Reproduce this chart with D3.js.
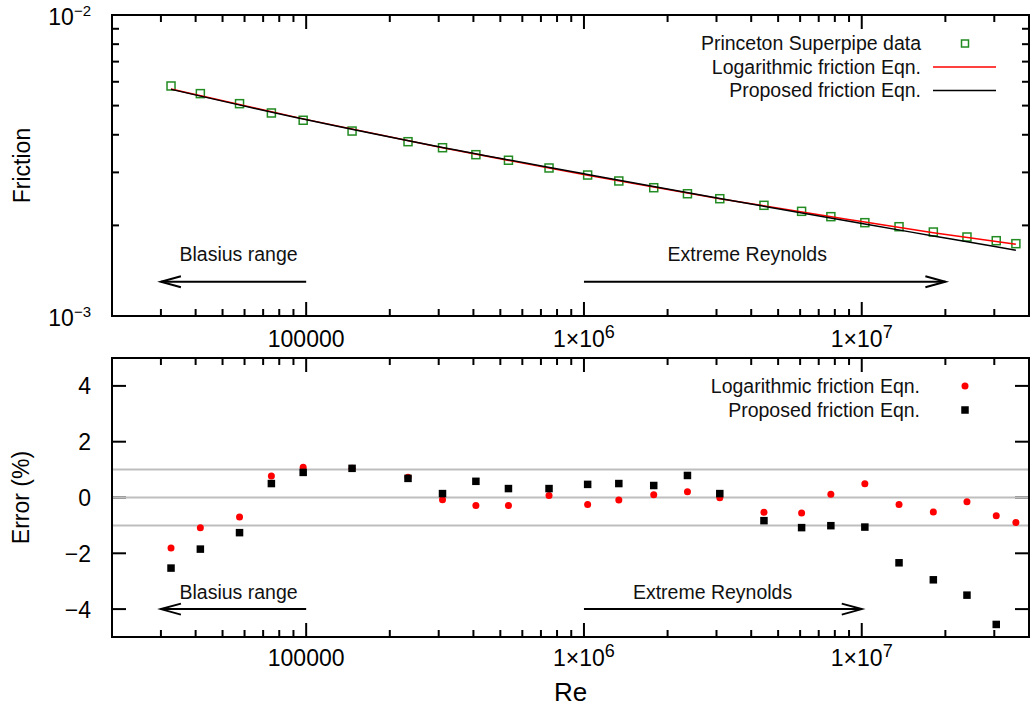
<!DOCTYPE html>
<html>
<head>
<meta charset="utf-8">
<script src="https://cdn.jsdelivr.net/npm/d3@7"></script>
<style>
  html, body { margin: 0; padding: 0; background: #fff; }
  svg { display: block; font-family: "Liberation Sans", Arial, Helvetica, sans-serif; }
</style>
</head>
<body>
<svg id="chart" width="1034" height="709"></svg>
<script>
// Reynolds numbers of the Superpipe measurements
const reynolds = [32620, 41600, 57560, 74950, 97550, 146300, 232600, 309600, 408300, 534800,
  748600, 1031000, 1335000, 1783000, 2358000, 3083000, 4446000, 6074000, 7741000, 10260000,
  13620000, 18100000, 23920000, 30490000, 35880000];

// Measured friction factor
const frictionData = [0.00581, 0.00548, 0.005075, 0.004726, 0.00447, 0.004116, 0.003794, 0.003623,
  0.003435, 0.003292, 0.003103, 0.00294, 0.002809, 0.002668, 0.002548, 0.002453, 0.002332, 0.002227,
  0.002138, 0.002042, 0.00198, 0.001901, 0.00183, 0.001779, 0.001739];

// Friction curves sampled along Re
const curveRe = [32620, 97550, 309600, 1031000, 3083000, 10260000, 18100000, 30490000, 35880000];
const logFriction = [0.00568, 0.004518, 0.00362, 0.002933, 0.002453, 0.002052, 0.001891, 0.001767, 0.00173];
const proposedFriction = [0.005663, 0.00451, 0.003628, 0.002954, 0.002456, 0.00202, 0.001845, 0.001698, 0.001655];

// Relative error (%) of each equation against the data
const errorLog = [-1.81, -1.08, -0.70, 0.77, 1.08, 1.05, 0.73, -0.08, -0.29, -0.29, 0.07, -0.25,
  -0.09, 0.10, 0.21, -0.01, -0.53, -0.56, 0.12, 0.49, -0.25, -0.52, -0.15, -0.65, -0.90];
const errorProposed = [-2.53, -1.85, -1.26, 0.50, 0.90, 1.045, 0.685, 0.14, 0.58, 0.32, 0.32, 0.47,
  0.50, 0.43, 0.79, 0.14, -0.83, -1.08, -1.01, -1.06, -2.34, -2.95, -3.50, -4.55, null];

// Axis ticks
const xMajorTicks = [1e5, 1e6, 1e7];
const xTickLabels = [["100000", ""], ["1×10", "6"], ["1×10", "7"]];
const fMajorTicks = [1e-3, 1e-2];
const fTickLabels = [["10", "−3"], ["10", "−2"]];
const errTicks = [-4, -2, 0, 2, 4];
const errGuides = [-1, 0, 1];

// Range annotations
const blasiusRange = { from: 1e5, to: 3e4, text: "Blasius range", textAt: 3.5e4 };
const extremeTop = { from: 1e6, to: 2e7, text: "Extreme Reynolds", textAt: 2e6 };
const extremeBottom = { from: 1e6, to: 1e7, text: "Extreme Reynolds", textAt: 1.5e6 };

const svg = d3.select("#chart");
const L = 112, R = 1029;
const top1 = 15, bot1 = 316, top2 = 358, bot2 = 637;
const tickFont = 23, keyFont = 19.5;

const x = d3.scaleLog().domain([2e4, 4e7]).range([L, R]);
const yF = d3.scaleLog().domain([1e-3, 1e-2]).range([bot1, top1]);
const yE = d3.scaleLinear().domain([-5, 5]).range([bot2, top2]);

const xMinor = [];
for (let d = 1e4; d < 1e8; d *= 10) for (let k = 2; k <= 9; k++) {
  const v = d * k; if (v > 2e4 && v < 4e7) xMinor.push(v);
}
const fMinor = d3.range(2, 10).map(k => k * 1e-3);

function frameTicks(g, yTop, yBot) {
  const maj = 14, min = 7;
  xMajorTicks.forEach(v => {
    g.append("line").attr("x1", x(v)).attr("x2", x(v)).attr("y1", yBot).attr("y2", yBot - maj);
    g.append("line").attr("x1", x(v)).attr("x2", x(v)).attr("y1", yTop).attr("y2", yTop + maj);
  });
  xMinor.forEach(v => {
    g.append("line").attr("x1", x(v)).attr("x2", x(v)).attr("y1", yBot).attr("y2", yBot - min);
    g.append("line").attr("x1", x(v)).attr("x2", x(v)).attr("y1", yTop).attr("y2", yTop + min);
  });
  g.selectAll("line").attr("stroke", "#000").attr("stroke-width", 2);
}

function xLabels(g, yBase) {
  xMajorTicks.forEach((v, i) => {
    const t = g.append("text").attr("x", x(v)).attr("y", yBase).attr("text-anchor", "middle")
      .attr("font-size", tickFont);
    t.append("tspan").text(xTickLabels[i][0]);
    if (xTickLabels[i][1]) t.append("tspan").attr("dy", -9).attr("font-size", 18).text(xTickLabels[i][1]);
  });
}

function arrow(g, yS, y, a, yText) {
  const x1 = x(a.from), x2 = x(a.to), dir = x2 > x1 ? -1 : 1;
  g.append("line").attr("x1", x1).attr("x2", x2).attr("y1", yS(y)).attr("y2", yS(y));
  g.append("path").attr("d", `M${x2 + dir * 20},${yS(y) - 5.5}L${x2},${yS(y)}L${x2 + dir * 20},${yS(y) + 5.5}`)
    .attr("fill", "none");
  g.selectAll("line,path").attr("stroke", "#000").attr("stroke-width", 2);
  g.append("text").attr("x", x(a.textAt)).attr("y", yS(yText)).attr("dy", "0.35em")
    .attr("font-size", keyFont).attr("fill", "#111").text(a.text);
}

// ---------- upper panel: friction ----------
const p1 = svg.append("g");
frameTicks(p1.append("g"), top1, bot1);
const yt1 = p1.append("g");
fMinor.forEach(v => {
  yt1.append("line").attr("x1", L).attr("x2", L + 7).attr("y1", yF(v)).attr("y2", yF(v));
  yt1.append("line").attr("x1", R).attr("x2", R - 7).attr("y1", yF(v)).attr("y2", yF(v));
});
yt1.selectAll("line").attr("stroke", "#000").attr("stroke-width", 2);
fMajorTicks.forEach((v, i) => {
  const t = p1.append("text").attr("x", 91).attr("y", yF(v) + 10).attr("text-anchor", "end")
    .attr("font-size", tickFont);
  t.append("tspan").text(fTickLabels[i][0]);
  t.append("tspan").attr("dy", -9).attr("font-size", 15).text(fTickLabels[i][1]);
});
xLabels(p1, 347);

arrow(p1.append("g"), yF, 1.3e-3, blasiusRange, 1.6e-3);
arrow(p1.append("g"), yF, 1.3e-3, extremeTop, 1.6e-3);

p1.append("g").selectAll("rect").data(reynolds.map((r, i) => [r, frictionData[i]])).join("rect")
  .attr("x", d => x(d[0]) - 4).attr("y", d => yF(d[1]) - 4).attr("width", 8).attr("height", 8)
  .attr("fill", "none").attr("stroke", "#228b22").attr("stroke-width", 1.5);

const lineF = d3.line().x(d => x(d[0])).y(d => yF(d[1])).curve(d3.curveMonotoneX);
p1.append("path").attr("d", lineF(curveRe.map((r, i) => [r, logFriction[i]])))
  .attr("fill", "none").attr("stroke", "#ff0000").attr("stroke-width", 1.5);
p1.append("path").attr("d", lineF(curveRe.map((r, i) => [r, proposedFriction[i]])))
  .attr("fill", "none").attr("stroke", "#000").attr("stroke-width", 1.5);

// legend
const k1 = p1.append("g").attr("font-size", keyFont).attr("text-anchor", "end").attr("fill", "#111");
[["Princeton Superpipe data", 43.5], ["Logarithmic friction Eqn.", 67], ["Proposed friction Eqn.", 90.5]]
  .forEach(([s, y]) => k1.append("text").attr("x", 921).attr("y", y).attr("dy", "0.35em").text(s));
k1.append("rect").attr("x", 961.5).attr("y", 40).attr("width", 7).attr("height", 7)
  .attr("fill", "none").attr("stroke", "#228b22").attr("stroke-width", 1.5);
k1.append("line").attr("x1", 933).attr("x2", 996).attr("y1", 67).attr("y2", 67).attr("stroke", "#ff0000").attr("stroke-width", 1.5);
k1.append("line").attr("x1", 933).attr("x2", 996).attr("y1", 90.5).attr("y2", 90.5).attr("stroke", "#000").attr("stroke-width", 1.5);

p1.append("rect").attr("x", L).attr("y", top1).attr("width", R - L).attr("height", bot1 - top1)
  .attr("fill", "none").attr("stroke", "#000").attr("stroke-width", 2);

p1.append("text").attr("transform", `translate(30,${(top1 + bot1) / 2}) rotate(-90)`)
  .attr("text-anchor", "middle").attr("font-size", 23).text("Friction");

// ---------- lower panel: error ----------
const p2 = svg.append("g");
frameTicks(p2.append("g"), top2, bot2);
const yt2 = p2.append("g");
errTicks.forEach(v => {
  yt2.append("line").attr("x1", L).attr("x2", L + 14).attr("y1", yE(v)).attr("y2", yE(v));
  yt2.append("line").attr("x1", R).attr("x2", R - 14).attr("y1", yE(v)).attr("y2", yE(v));
  p2.append("text").attr("x", 91).attr("y", yE(v) + 8.5).attr("text-anchor", "end")
    .attr("font-size", tickFont).text(d3.format("")(v).replace("-", "−"));
});
yt2.selectAll("line").attr("stroke", "#000").attr("stroke-width", 2);
xLabels(p2, 666);

p2.append("g").selectAll("line").data(errGuides).join("line")
  .attr("x1", L).attr("x2", R).attr("y1", d => yE(d)).attr("y2", d => yE(d))
  .attr("stroke", "#bebebe").attr("stroke-width", 2);

arrow(p2.append("g"), yE, -4, blasiusRange, -3.4);
arrow(p2.append("g"), yE, -4, extremeBottom, -3.4);

p2.append("g").selectAll("circle").data(reynolds.map((r, i) => [r, errorLog[i]])).join("circle")
  .attr("cx", d => x(d[0])).attr("cy", d => yE(d[1])).attr("r", 3.5).attr("fill", "#ff0000");
p2.append("g").selectAll("rect")
  .data(reynolds.map((r, i) => [r, errorProposed[i]]).filter(d => d[1] !== null)).join("rect")
  .attr("x", d => x(d[0]) - 3.75).attr("y", d => yE(d[1]) - 3.75).attr("width", 7.5).attr("height", 7.5)
  .attr("fill", "#000");

const k2 = p2.append("g").attr("font-size", keyFont).attr("text-anchor", "end").attr("fill", "#111");
[["Logarithmic friction Eqn.", 386], ["Proposed friction Eqn.", 410]]
  .forEach(([s, y]) => k2.append("text").attr("x", 920).attr("y", y).attr("dy", "0.35em").text(s));
k2.append("circle").attr("cx", 965).attr("cy", 386).attr("r", 3.5).attr("fill", "#ff0000");
k2.append("rect").attr("x", 961.25).attr("y", 406.25).attr("width", 7.5).attr("height", 7.5).attr("fill", "#000");

p2.append("rect").attr("x", L).attr("y", top2).attr("width", R - L).attr("height", bot2 - top2)
  .attr("fill", "none").attr("stroke", "#000").attr("stroke-width", 2);

p2.append("text").attr("transform", `translate(29,${(top2 + bot2) / 2}) rotate(-90)`)
  .attr("text-anchor", "middle").attr("font-size", 23).text("Error (%)");
svg.append("text").attr("x", (L + R) / 2).attr("y", 701).attr("text-anchor", "middle")
  .attr("font-size", 26).text("Re");
</script>
</body>
</html>
